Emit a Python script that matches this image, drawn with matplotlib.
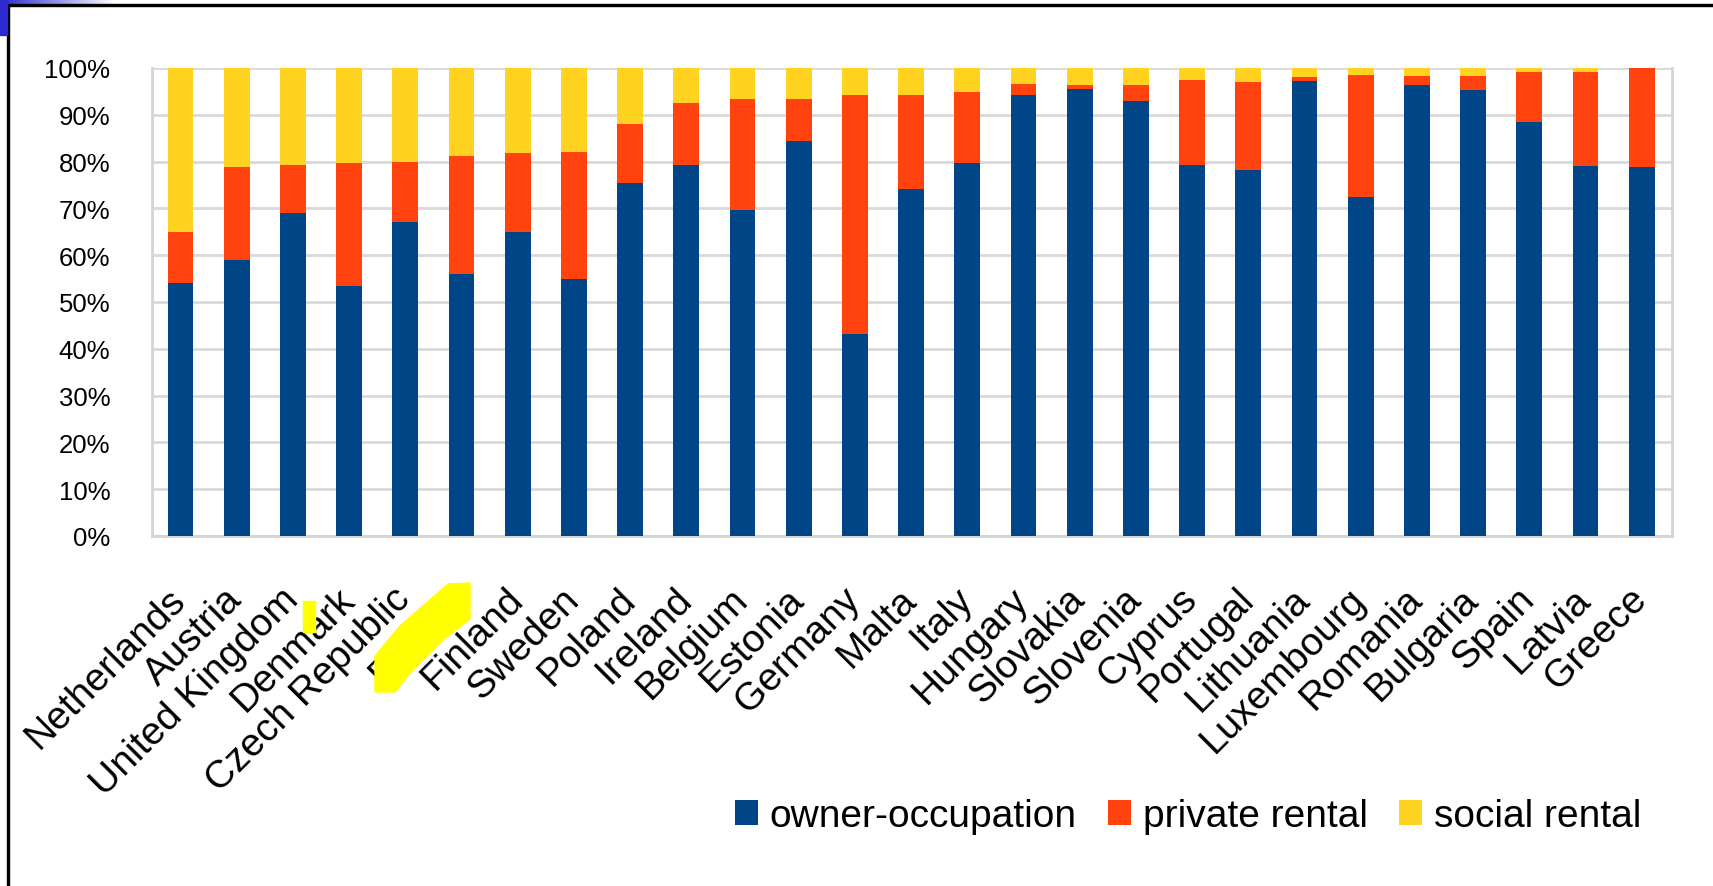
import numpy as np
import matplotlib
matplotlib.use("Agg")
import matplotlib.pyplot as plt
from matplotlib.patches import Rectangle, Polygon
from matplotlib.colors import LinearSegmentedColormap
from matplotlib.transforms import ScaledTranslation

plt.rcParams['font.family'] = ['Liberation Sans', 'DejaVu Sans']

countries = ["Netherlands", "Austria", "United Kingdom", "Denmark", "Czech Republic",
             "France", "Finland", "Sweden", "Poland", "Ireland", "Belgium", "Estonia",
             "Germany", "Malta", "Italy", "Hungary", "Slovakia", "Slovenia", "Cyprus",
             "Portugal", "Lithuania", "Luxembourg", "Romania", "Bulgaria", "Spain",
             "Latvia", "Greece"]

# shares in %
owner = [54, 59, 69, 53.5, 67, 56, 65, 55, 75.5, 79.3, 69.6, 84.4, 43.2, 74.1, 79.8,
         94.2, 95.6, 92.9, 79.2, 78.3, 97.2, 72.4, 96.4, 95.2, 88.5, 79.1, 78.8]
private = [11, 19.8, 10.3, 26.3, 13, 25.1, 16.8, 27.1, 12.6, 13.3, 23.8, 9, 51, 20.1, 15.1,
           2.3, 0.7, 3.5, 18.2, 18.7, 0.9, 26, 1.9, 3.1, 10.6, 20, 21.2]
social = [35, 21.2, 20.7, 20.2, 20, 18.9, 18.2, 17.9, 11.9, 7.4, 6.6, 6.6, 5.8, 5.8, 5.1,
          3.5, 3.7, 3.6, 2.6, 3.0, 1.9, 1.6, 1.7, 1.7, 0.9, 0.9, 0]

yticks = list(range(0, 101, 10))
ytick_labels = [f"{v}%" for v in yticks]

W, H = 1713, 887
fig = plt.figure(figsize=(W / 100, H / 100), dpi=100)

ax = fig.add_axes([152 / W, 1 - 537 / H, (1672 - 152) / W, (537 - 69) / H])
x = np.arange(len(countries))
owner = np.array(owner)
private = np.array(private)
social = np.array(social)

bw = 0.46
ax.bar(x, owner, width=bw, color='#004586', label='owner-occupation', zorder=3)
ax.bar(x, private, width=bw, bottom=owner, color='#ff420e', label='private rental', zorder=3)
ax.bar(x, social, width=bw, bottom=owner + private, color='#ffd320', label='social rental', zorder=3)

ax.set_xlim(-0.507, 26.54)
ax.set_ylim(0, 100)
ax.set_yticks(yticks, ytick_labels, fontsize=18.5)
ax.set_xticks(x, countries, fontsize=28, rotation=45, ha='right', va='top',
              rotation_mode='anchor')
ax.tick_params(axis='y', length=0, pad=30)
ax.tick_params(axis='x', length=0, pad=32)
# nudge the slanted labels a little to the left
shift = ScaledTranslation(-13 / 100, 0, fig.dpi_scale_trans)
for lab in ax.get_xticklabels():
    lab.set_transform(lab.get_transform() + shift)
ax.grid(axis='y', color='#d9d9d9', linewidth=2, zorder=0)
for side in ['left', 'right', 'bottom']:
    ax.spines[side].set_color('#d4d4d4')
    ax.spines[side].set_linewidth(2)
ax.spines['top'].set_visible(False)

fig.legend(loc='center', bbox_to_anchor=(1188 / W, 1 - 817 / H), ncol=3, frameon=False,
           fontsize=28, handlelength=0.6, handleheight=0.6, handletextpad=0.3,
           columnspacing=0.8)

# slide frame and corner decoration
fig.add_artist(Rectangle((7 / W, 0), 2 / W, 1 - 5 / H, transform=fig.transFigure,
                         color='black', zorder=10))
fig.add_artist(Rectangle((7 / W, 1 - 7 / H), 1 - 7 / W, 2 / H, transform=fig.transFigure,
                         color='black', zorder=10))
fig.add_artist(Rectangle((0, 1 - 36 / H), 7 / W, 36 / H, transform=fig.transFigure,
                         color='#2a2ad0', zorder=10))
gax = fig.add_axes([0, 1 - 5 / H, 115 / W, 5 / H])
cmap = LinearSegmentedColormap.from_list('g', ['#2a2ad0', '#ffffff'])
gax.imshow(np.linspace(0, 1, 200)[None, :], aspect='auto', cmap=cmap)
gax.axis('off')

# highlighter marks
def px(pts):
    return [(a / W, 1 - b / H) for a, b in pts]

fig.add_artist(Polygon(px([(375, 657), (400, 627), (448, 585), (470, 584), (470, 620),
                           (444, 640), (412, 672), (395, 693), (375, 693)]),
                       closed=True, transform=fig.transFigure, color='#ffff00', zorder=10))
fig.add_artist(Rectangle((303 / W, 1 - 633 / H), 12 / W, 31 / H, transform=fig.transFigure,
                         color='#ffff00', zorder=10))

fig.savefig('out.png', dpi=100)
